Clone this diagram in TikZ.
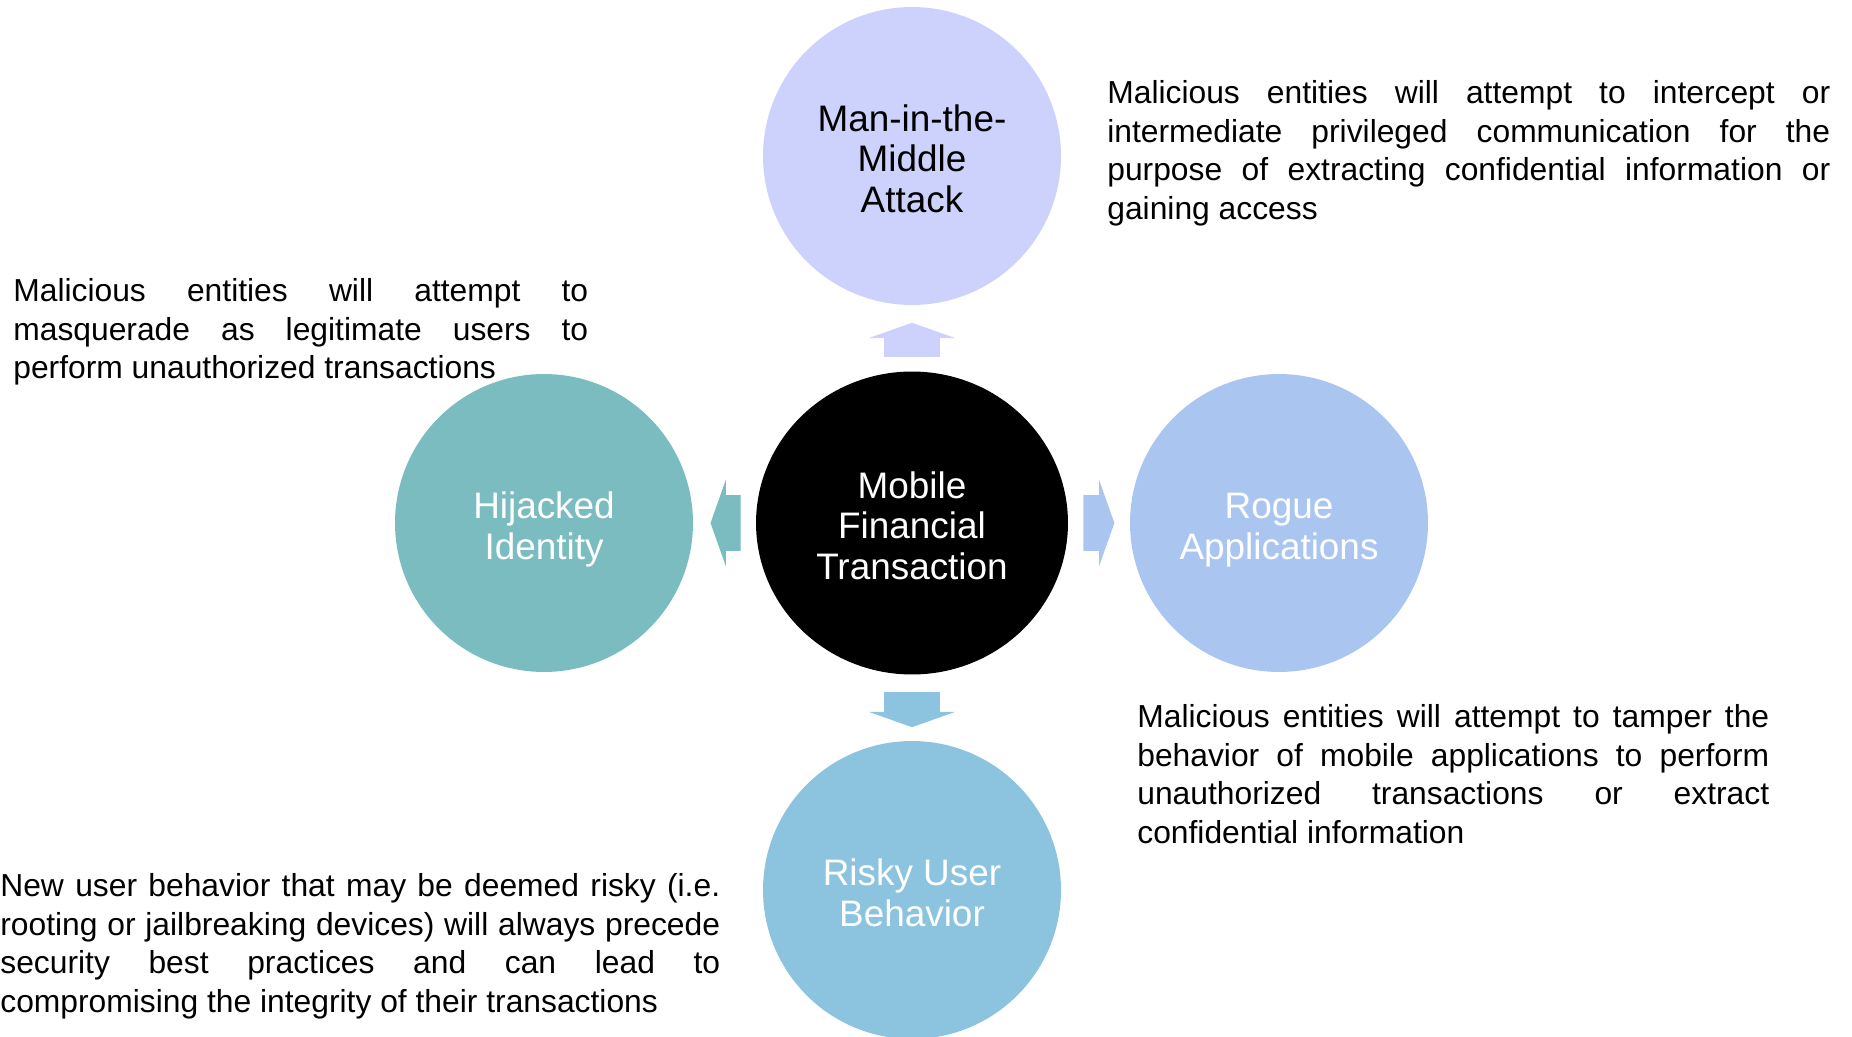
\documentclass[tikz,border=0pt]{standalone}
\usepackage{fontspec}
\setmainfont{Liberation Sans}
\usetikzlibrary{calc,shapes.geometric,shapes.arrows}
\definecolor{mitmLavender}{RGB}{204,210,252}
\definecolor{rogueBlue}{RGB}{170,197,240}
\definecolor{riskySky}{RGB}{140,195,222}
\definecolor{hijackTeal}{RGB}{122,188,192}
\hyphenpenalty=10000
\exhyphenpenalty=10000
\newcommand{\toppad}{\rule{0pt}{18pt}}

\begin{document}
\begin{tikzpicture}[x=0.02cm,y=-0.02cm,
  threat/.style={circle, minimum size=5.96cm, inner sep=0pt, align=center, text depth=0pt, font=\fontsize{21}{23.2}\selectfont},
  core/.style={ellipse, fill=black, text=white, minimum width=6.24cm, minimum height=6.06cm, inner sep=0pt, align=center, text depth=0pt, font=\fontsize{21}{23.2}\selectfont},
  blockarrow/.style={single arrow, anchor=tail, minimum height=0.68cm, minimum width=1.72cm, single arrow head extend=0.31cm, single arrow tip angle=141, inner xsep=0pt, inner ysep=0.55cm},
  note/.style={anchor=north west, inner sep=0pt, align=justify, font=\fontsize{18.1}{22}\selectfont}
]

% Canvas
\useasboundingbox (0,0) rectangle (1852,1037);

% Centre and the four threats
\node[core] (mft) at (912,523) {\toppad Mobile\\Financial\\Transaction};
\node[threat, fill=mitmLavender, text=black] (mitm) at (912,156) {\toppad Man-in-the-\\Middle\\Attack};
\node[threat, fill=hijackTeal, text=white] (hijack) at (544,523) {\toppad Hijacked\\Identity};
\node[threat, fill=rogueBlue, text=white] (rogue) at (1279,523) {\toppad Rogue\\Applications};
\node[threat, fill=riskySky, text=white] (risky) at (912,890) {\toppad Risky User\\Behavior};

% Block arrows out of the centre
\node[blockarrow, fill=mitmLavender, rotate=90] (toMitm) at ($(mft)!0.452!(mitm)$) {};
\node[blockarrow, fill=hijackTeal, rotate=180, minimum height=0.6cm] (toHijack) at ($(mft)!0.465!(hijack)$) {};
\node[blockarrow, fill=rogueBlue, minimum height=0.62cm] (toRogue) at ($(mft)!0.466!(rogue)$) {};
\node[blockarrow, fill=riskySky, rotate=-90, minimum height=0.7cm] (toRisky) at ($(mft)!0.46!(risky)$) {};

% Descriptions
\node[note, text width=14.46cm] (mitmNote) at (1107,80) {Malicious entities will attempt to intercept or\linebreak intermediate privileged communication for the\linebreak purpose of extracting confidential information or\linebreak gaining access};
\node[note, text width=11.5cm] (hijackNote) at (13,278) {Malicious entities will attempt to\linebreak masquerade as legitimate users to\linebreak perform unauthorized transactions};
\node[note, text width=12.64cm] (rogueNote) at (1137,704) {Malicious entities will attempt to tamper the\linebreak behavior of mobile applications to perform\linebreak unauthorized transactions or extract\linebreak confidential information};
\node[note, text width=14.4cm] (riskyNote) at (0,873) {New user behavior that may be deemed risky (i.e.\linebreak rooting or jailbreaking devices) will always precede\linebreak security best practices and can lead to\linebreak compromising the integrity of their transactions};

\end{tikzpicture}
\end{document}
